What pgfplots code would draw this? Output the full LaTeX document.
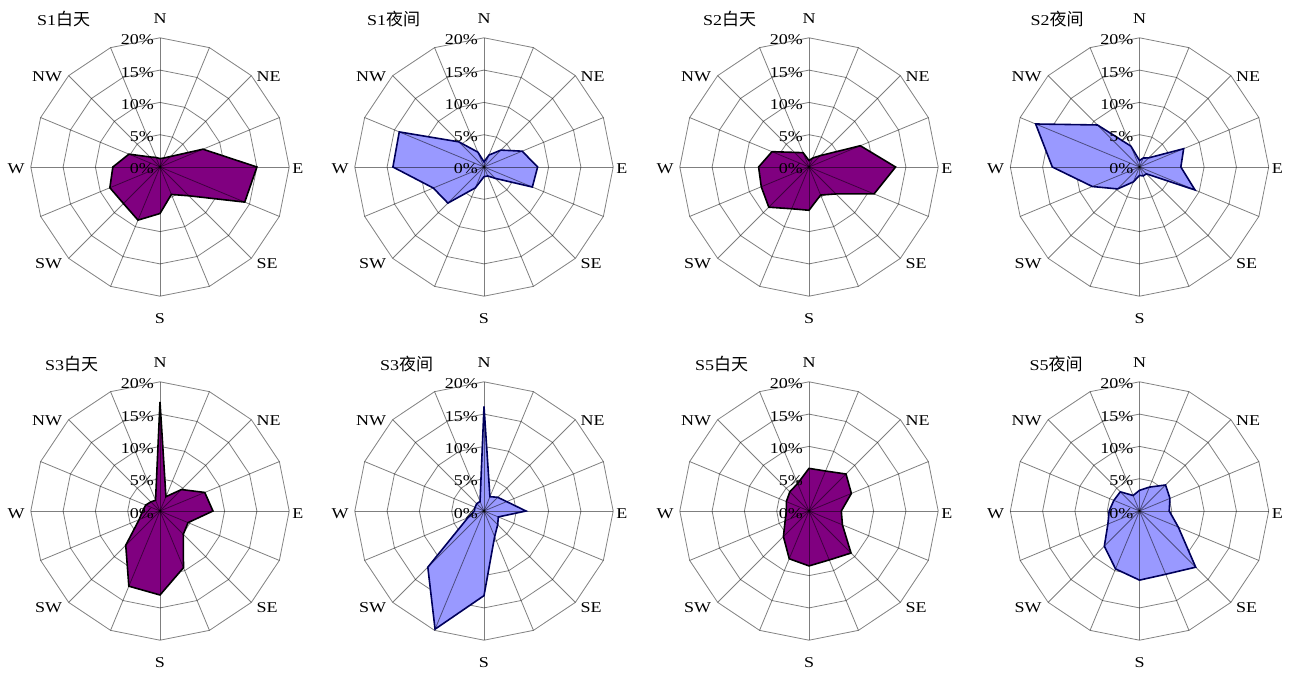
\documentclass[border=0pt]{standalone}
\usepackage{fontspec}
\setmainfont{Liberation Serif}[FakeStretch=1.2]
\newfontfamily\cjk{Noto Sans CJK SC}
\usepackage{pgfplots}
\pgfplotsset{compat=1.18}
\usepackage{pgfplotstable}
\usepgfplotslibrary{polar}

\definecolor{dayfill}{RGB}{128,0,128}
\definecolor{nightfill}{RGB}{153,153,255}
\definecolor{nightline}{RGB}{0,0,90}
\definecolor{gridc}{RGB}{130,130,130}

% Wind direction frequency (%) in 16 sectors, clockwise from N.
% ang is the polar angle (counter-clockwise from east) of each sector.
\pgfplotstableread{
dir ang    sAd  sAn  sBd  sBn  sCd  sCn  sDd  sDn
N   90     1.3  0.8  1.0  1.0 16.9 16.2  6.6  3.2
NNE 67.5   1.5  2.0  1.5  1.5  2.4  2.4  6.7  4.0
NE  45     2.3  3.7  2.5  2.0  4.7  3.0  8.1  5.7
ENE 22.5   7.2  6.4  8.6  7.4  7.5  3.8  7.1  5.1
E   0     15.0  8.3 13.4  6.4  8.2  6.5  5.0  4.6
ESE 337.5 14.2  8.1 10.9  9.3  4.7  2.4  5.6  6.5
SE  315    6.3  2.5  5.9  1.5  5.1  3.0  9.2 12.3
SSE 292.5  4.6  1.5  4.7  1.5  9.5  4.3  8.2 10.6
S   270    7.2  1.5  6.7  1.3 13.0 13.1  8.5 10.7
SSW 247.5  8.9  3.5  7.0  2.5 12.6 19.8  8.0  9.7
SW  225    8.0  7.9  8.8  4.8  7.5 12.3  5.6  7.7
WSW 202.5  8.4  8.5  8.0  7.9  3.5  2.7  4.0  5.3
W   180    7.3 14.1  7.8 13.5  2.7  1.5  3.5  4.7
WNW 157.5  5.2 14.2  6.2 17.4  2.4  1.5  3.8  4.3
NW  135    2.2  5.5  3.2  9.2  2.0  1.6  4.2  4.2
NNW 112.5  1.6  2.5  2.4  3.5  1.8  1.6  4.6  2.6
}\windtab

\newcommand\lblfont{\fontsize{15}{18}\selectfont}

% #1,#2 centre; #3 column; #4 fill; #5 outline; #6 title; #7 title x offset
\newcommand\windrose[7]{%
\begin{polaraxis}[
  at={(#1pt,#2pt)}, anchor=center,
  scale only axis, width=258.4pt, height=258.4pt,
  xmin=0, xmax=360, ymin=0, ymax=20,
  hide axis, clip=false,
]
  % 16-sided rings every 5 %
  \pgfplotsinvokeforeach{5,10,15,20}{%
    \addplot[gridc, line width=0.8pt] coordinates {(0,##1)(22.5,##1)(45,##1)(67.5,##1)(90,##1)(112.5,##1)(135,##1)(157.5,##1)(180,##1)(202.5,##1)(225,##1)(247.5,##1)(270,##1)(292.5,##1)(315,##1)(337.5,##1)} -- cycle;
  }
  \addplot[fill=#4, draw=none] table[x=ang, y=#3] {\windtab} -- cycle;
  % sector spokes
  \pgfplotsinvokeforeach{0,22.5,45,67.5,90,112.5,135,157.5,180,202.5,225,247.5,270,292.5,315,337.5}{%
    \addplot[black, opacity=0.5, line width=0.8pt] coordinates {(##1,0) (##1,20)};
  }
  \addplot[draw=#5, line width=1.6pt] table[x=ang, y=#3] {\windtab} -- cycle;
  % radial scale
  \pgfplotsinvokeforeach{0,5,10,15,20}{%
    \node[anchor=base east, inner sep=0pt, xshift=-6pt, yshift=-7pt] at (axis cs:90,##1) {##1\%};
  }
  \node[anchor=base, inner sep=0pt, yshift=14.7pt] at (axis cs:90,20) {N};
  \node[anchor=base, inner sep=0pt, yshift=-27pt] at (axis cs:270,20) {S};
  \node[anchor=base west, inner sep=0pt, xshift=3pt, yshift=-7pt] at (axis cs:0,20) {E};
  \node[anchor=base east, inner sep=0pt, xshift=-6pt, yshift=-7pt] at (axis cs:180,20) {W};
  \node[anchor=base west, inner sep=0pt, xshift=5pt, yshift=-5.6pt] at (axis cs:45,20) {NE};
  \node[anchor=base east, inner sep=0pt, xshift=-6.4pt, yshift=-5.6pt] at (axis cs:135,20) {NW};
  \node[anchor=base west, inner sep=0pt, xshift=5pt, yshift=-10pt] at (axis cs:315,20) {SE};
  \node[anchor=base east, inner sep=0pt, xshift=-6.4pt, yshift=-10pt] at (axis cs:225,20) {SW};
  \node[anchor=base west, inner sep=0pt, xshift=#7pt, yshift=141pt] at (axis cs:0,0) {#6};
\end{polaraxis}}

\newcommand\ttl[2]{#1{\cjk\fontsize{17}{20}\selectfont #2}}

\begin{document}
\begin{tikzpicture}[every node/.append style={font=\lblfont}]
\useasboundingbox (0pt,0pt) rectangle (1298pt,673pt);
\windrose{160}{506}{sAd}{dayfill}{black}{\ttl{S1}{白天}}{-123}
\windrose{484}{506}{sAn}{nightfill}{nightline}{\ttl{S1}{夜间}}{-117}
\windrose{809}{506}{sBd}{dayfill}{black}{\ttl{S2}{白天}}{-106}
\windrose{1139.5}{506}{sBn}{nightfill}{nightline}{\ttl{S2}{夜间}}{-109}
\windrose{160}{162}{sCd}{dayfill}{black}{\ttl{S3}{白天}}{-115}
\windrose{484}{162}{sCn}{nightfill}{nightline}{\ttl{S3}{夜间}}{-104}
\windrose{809}{162}{sDd}{dayfill}{black}{\ttl{S5}{白天}}{-114}
\windrose{1139.5}{162}{sDn}{nightfill}{nightline}{\ttl{S5}{夜间}}{-110}
\end{tikzpicture}
\end{document}
